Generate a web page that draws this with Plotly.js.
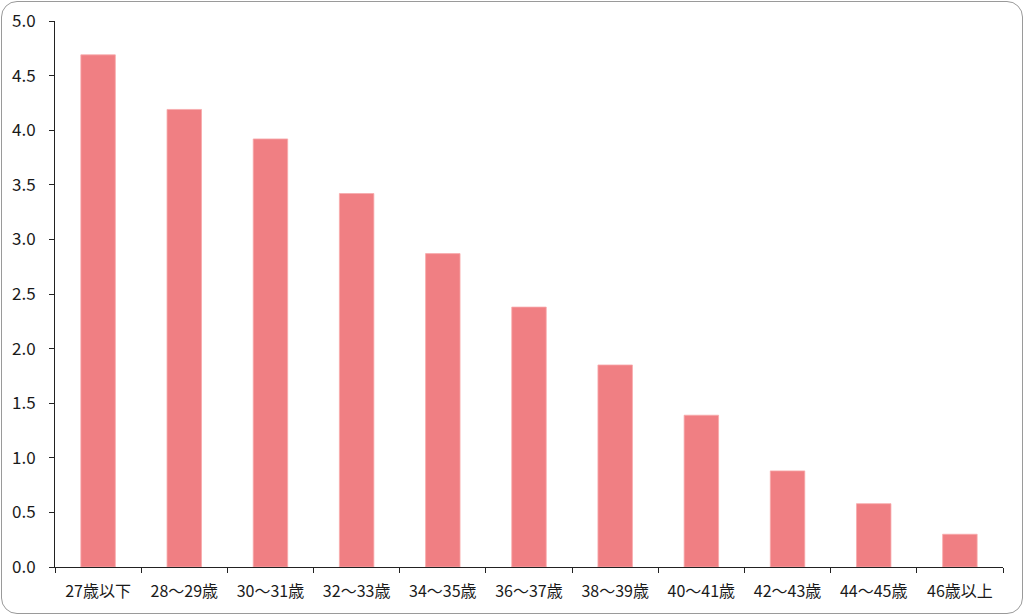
<!DOCTYPE html>
<html>
<head>
<meta charset="utf-8">
<script src="https://cdn.plot.ly/plotly-3.0.1.min.js"></script>
<style>
  html, body { margin: 0; padding: 0; background: #fff; }
  #wrap { position: relative; width: 1024px; height: 615px; }
  #chart { width: 1024px; height: 615px; }
  #frame { position: absolute; left: 1px; top: 1px; width: 1020px; height: 611px;
           border: 1.5px solid #9a9a9a; border-radius: 16px; pointer-events: none; }
</style>
</head>
<body>
<div id="wrap">
  <div id="chart"></div>
  <div id="frame"></div>
</div>
<script>
const categories = ["27歳以下", "28～29歳", "30～31歳", "32～33歳", "34～35歳", "36～37歳", "38～39歳", "40～41歳", "42～43歳", "44～45歳", "46歳以上"];
const values = [4.69, 4.19, 3.92, 3.42, 2.87, 2.38, 1.85, 1.39, 0.88, 0.58, 0.30];
const yTickValues = [0, 0.5, 1, 1.5, 2, 2.5, 3, 3.5, 4, 4.5, 5];

const trace = {
  type: "bar",
  x: categories,
  y: values,
  marker: { color: "#F07F83", line: { color: "#F7A9AB", width: 0.8 } },
  hoverinfo: "x+y"
};

const layout = {
  width: 1024,
  height: 615,
  margin: { l: 55, r: 21, t: 21, b: 48 },
  paper_bgcolor: "#ffffff",
  plot_bgcolor: "#ffffff",
  bargap: 0.6,
  showlegend: false,
  font: { family: "'Noto Sans CJK JP', 'Noto Sans', sans-serif", size: 16, color: "#1a1a1a" },
  xaxis: {
    type: "category",
    showline: true,
    linecolor: "#222",
    linewidth: 1,
    ticks: "outside",
    tickson: "boundaries",
    ticklen: 5,
    tickcolor: "#222",
    showgrid: false,
    zeroline: false,
    ticklabelstandoff: 10,
    tickfont: { size: 16, color: "#1a1a1a" }
  },
  yaxis: {
    range: [0, 5],
    tickvals: yTickValues,
    tickformat: ".1f",
    showline: true,
    linecolor: "#222",
    linewidth: 1,
    ticks: "outside",
    ticklen: 5,
    tickcolor: "#222",
    showgrid: false,
    zeroline: false,
    ticklabelstandoff: 10,
    tickfont: { size: 17, color: "#1a1a1a" }
  }
};

Plotly.newPlot("chart", [trace], layout, { displayModeBar: false, staticPlot: true });
</script>
</body>
</html>
